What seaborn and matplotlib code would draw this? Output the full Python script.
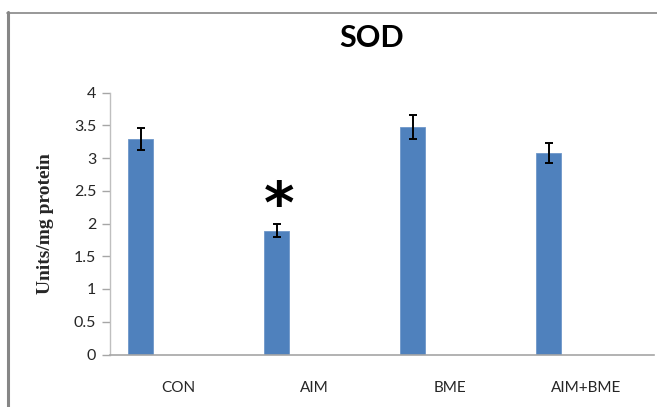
import matplotlib
matplotlib.use("Agg")
import matplotlib.pyplot as plt
import seaborn as sns
import pandas as pd
from matplotlib.lines import Line2D

# Values
groups = ["CON", "AIM", "BME", "AIM+BME"]
sod_mean = [3.29, 1.89, 3.47, 3.08]
sod_err = [0.17, 0.10, 0.18, 0.15]
series_levels = ["Series1", "Series2", "Series3", "Series4"]
y_ticks = [0, 0.5, 1, 1.5, 2, 2.5, 3, 3.5, 4]
y_tick_labels = ["0", "0.5", "1", "1.5", "2", "2.5", "3", "3.5", "4"]

sns.set_theme(style="white")
plt.rcParams["font.family"] = ["Lato", "DejaVu Sans"]

df = pd.DataFrame({"group": groups, "value": sod_mean, "series": "Series1"})

W, H = 657, 407
fig = plt.figure(figsize=(W / 100, H / 100), dpi=100)
ax = fig.add_axes([110 / W, 1 - 354.5 / H, (654 - 110) / W, (354.5 - 92.5) / H])

sns.barplot(
    data=df, x="group", y="value", hue="series", hue_order=series_levels,
    order=groups, palette=["#4F81BD"] * 4, width=0.733, dodge=True,
    saturation=1, errorbar=None, edgecolor="#6E97C9", linewidth=0.6,
    legend=False, ax=ax,
)

# Error bars centred on the drawn bars
bars = [p for p in ax.patches if p.get_height() > 0]
bars.sort(key=lambda p: p.get_x())
xs = [p.get_x() + p.get_width() / 2 for p in bars]
ax.errorbar(xs, sod_mean, yerr=sod_err, fmt="none", ecolor="black",
            elinewidth=1.4, capsize=3, capthick=1.4, zorder=5)

# Significance marker above AIM
ax.text(xs[1] + 0.02, sod_mean[1] + sod_err[1] + 0.27, "*", ha="center", va="center",
        fontsize=42, fontweight="bold", family="DejaVu Sans", color="black")

ax.set_xlim(-0.5, 3.5)
ax.set_ylim(0, 4)
ax.set_yticks(y_ticks)
ax.set_yticklabels(y_tick_labels)
ax.set_xlabel("")
ax.set_ylabel("Units/mg protein", family="Liberation Serif", fontweight="bold",
              fontsize=14, labelpad=14)

for side in ["top", "right"]:
    ax.spines[side].set_visible(False)
ax.spines["left"].set_color("#BFBFBF")
ax.spines["bottom"].set_color("#A6A6A6")
ax.spines["left"].set_linewidth(1.0)
ax.spines["bottom"].set_linewidth(1.2)

ax.tick_params(axis="y", which="both", left=True, length=6, width=1.0,
               color="#A6A6A6", labelsize=11.5, labelcolor="#262626", pad=4)
ax.tick_params(axis="x", bottom=False, labelsize=11, labelcolor="#262626", pad=13)

fig.text(372 / W, 1 - 38 / H, "SOD", ha="center", va="center",
         fontsize=22, fontweight="bold", color="black")

# Outer chart frame
fig.add_artist(Line2D([7.5 / W, 7.5 / W], [0, 1 - 12 / H], transform=fig.transFigure,
                      color="#868686", linewidth=2.2))
fig.add_artist(Line2D([6.5 / W, 1], [1 - 12.5 / H, 1 - 12.5 / H], transform=fig.transFigure,
                      color="#868686", linewidth=1.2))

fig.savefig("out.png", dpi=100, facecolor="white")
